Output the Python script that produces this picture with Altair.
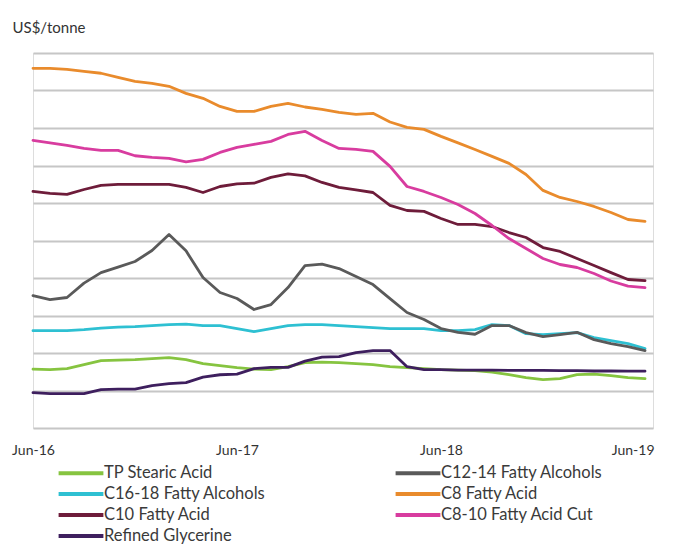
import altair as alt
import pandas as pd

# ---- data ----
months = list(range(37))  # Jun-16 .. Jun-19, monthly
tick_months = [0, 12, 24, 36]
tick_labels = ["Jun-16", "Jun-17", "Jun-18", "Jun-19"]

# legend order (the 2-column legend is filled column by column)
series_names = [
    "TP Stearic Acid",
    "C16-18 Fatty Alcohols",
    "C10 Fatty Acid",
    "Refined Glycerine",
    "C12-14 Fatty Alcohols",
    "C8 Fatty Acid",
    "C8-10 Fatty Acid Cut",
]
series_colors = ["#86c440", "#2ec0d2", "#6e1c3a", "#3e1f5e", "#5a5a5a", "#e98b2c", "#d83c9f"]

tp_stearic = [392, 389, 396, 422, 449, 452, 456, 463, 469, 456, 429, 416, 402, 392, 389, 409, 436, 439, 436,
              429, 422, 409, 402, 396, 389, 386, 382, 372, 356, 336, 322, 329, 356, 359, 349, 336, 329]
c16_18 = [649, 649, 649, 656, 666, 673, 676, 683, 689, 693, 683, 683, 663, 643, 663, 683, 689, 689, 683,
          676, 669, 663, 663, 663, 649, 649, 656, 689, 683, 629, 623, 629, 636, 603, 583, 563, 529]
c10 = [1577, 1564, 1557, 1590, 1617, 1624, 1624, 1624, 1624, 1604, 1570, 1610, 1627, 1632, 1671, 1694, 1681, 1637, 1604,
       1587, 1570, 1484, 1450, 1444, 1397, 1357, 1357, 1343, 1303, 1270, 1203, 1177, 1130, 1083, 1036, 990, 983]
glycerine = [236, 229, 229, 229, 256, 259, 259, 283, 296, 302, 339, 355, 359, 396, 404, 404, 446, 472, 476,
             503, 516, 516, 409, 389, 389, 386, 386, 386, 384, 384, 384, 382, 382, 380, 380, 379, 379]
c12_14 = [883, 856, 870, 966, 1036, 1073, 1110, 1183, 1290, 1181, 1003, 903, 863, 790, 823, 936, 1083, 1093, 1063,
          1010, 956, 863, 770, 723, 663, 638, 625, 683, 683, 636, 609, 623, 638, 589, 563, 543, 516]
c8 = [2398, 2398, 2391, 2378, 2365, 2338, 2311, 2298, 2278, 2231, 2198, 2144, 2111, 2111, 2144, 2164, 2140, 2124, 2104,
      2091, 2098, 2040, 2004, 1991, 1944, 1901, 1857, 1811, 1764, 1690, 1584, 1537, 1510, 1477, 1437, 1390, 1377]
c8_10 = [1917, 1901, 1884, 1864, 1851, 1851, 1815, 1804, 1797, 1774, 1791, 1837, 1871, 1891, 1911, 1957, 1978, 1917, 1864,
         1857, 1844, 1744, 1610, 1577, 1537, 1490, 1430, 1350, 1263, 1197, 1130, 1090, 1070, 1030, 980, 946, 936]

series_values = [tp_stearic, c16_18, c10, glycerine, c12_14, c8, c8_10]

rows = []
for name, vals in zip(series_names, series_values):
    for m, v in zip(months, vals):
        rows.append({"month": m, "series": name, "price": v})
df = pd.DataFrame(rows)

label_expr = " : ".join(
    f"datum.value == {m} ? '{lab}'" for m, lab in zip(tick_months[:-1], tick_labels[:-1])
) + f" : '{tick_labels[-1]}'"

FONT = "Lato"

chart = (
    alt.Chart(df)
    .mark_line(strokeWidth=2.8, strokeJoin="round", strokeCap="round")
    .encode(
        x=alt.X(
            "month:Q",
            scale=alt.Scale(domain=[0, 36.47], nice=False, zero=False),
            axis=alt.Axis(
                values=tick_months,
                labelExpr=label_expr,
                title=None,
                grid=False,
                ticks=False,
                domain=False,
                labelFont=FONT,
                labelFontSize=14,
                labelColor="#333333",
                labelPadding=15,
                labelFlush=False,
                labelAlign={"condition": {"test": "datum.value == 36", "value": "right"}, "value": "center"},
                labelOffset={"condition": {"test": "datum.value == 36", "value": 9}, "value": 0},
            ),
        ),
        y=alt.Y(
            "price:Q",
            scale=alt.Scale(domain=[0, 2500], nice=False),
            axis=alt.Axis(
                values=list(range(0, 2501, 250)),
                labels=False,
                ticks=False,
                domain=False,
                grid=True,
                gridColor="#c6c6c6",
                gridWidth=2,
                title="US$/tonne",
                titleAngle=0,
                titleAlign="left",
                titleBaseline="middle",
                titleX=-21,
                titleY=-26,
                titleFont=FONT,
                titleFontSize=15,
                titleFontWeight="normal",
                titleColor="#333333",
            ),
        ),
        color=alt.Color(
            "series:N",
            scale=alt.Scale(domain=series_names, range=series_colors),
            legend=alt.Legend(
                orient="none",
                legendX=38,
                legendY=410,
                columns=2,
                columnPadding=121,
                rowPadding=2,
                title=None,
                symbolType="M-2.8,0H2.8",
                symbolSize=256,
                symbolStrokeWidth=4,
                labelFont=FONT,
                labelFontSize=16.5,
                labelColor="#3a3a3a",
                labelOffset=13,
                labelLimit=0,
            ),
        ),
    )
    .properties(
        width=620,
        height=375,
        autosize=alt.AutoSizeParams(type="none"),
        padding={"left": 33, "top": 53, "right": 24, "bottom": 119},
    )
    .configure_view(stroke=None)
    .configure(font=FONT)
)

chart.save("out.html", embed_options={"renderer": "svg", "actions": False})
